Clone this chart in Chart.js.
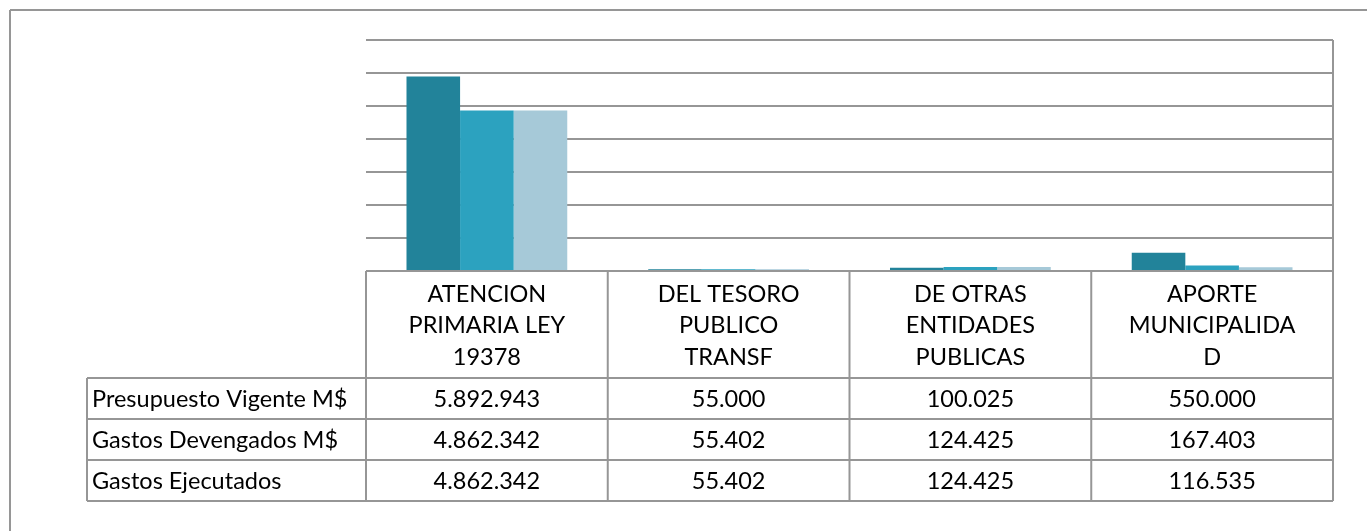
<!DOCTYPE html>
<html><head><meta charset="utf-8">
<script src="https://cdn.jsdelivr.net/npm/chart.js@4.4.1/dist/chart.umd.min.js"></script>
<style>html,body{margin:0;padding:0;background:#fff}#wrap{position:relative;width:1367px;height:531px}</style>
</head><body><div id="wrap"><canvas id="c" width="1367" height="531"></canvas></div>
<script>
const categories = [["ATENCION","PRIMARIA LEY","19378"],["DEL TESORO","PUBLICO","TRANSF"],["DE OTRAS","ENTIDADES","PUBLICAS"],["APORTE","MUNICIPALIDA","D"]];
const seriesNames = ["Presupuesto Vigente M$","Gastos Devengados M$","Gastos Ejecutados"];
const presupuestoVigente = [5892943,55000,100025,550000];
const gastosDevengados = [4862342,55402,124425,167403];
const gastosEjecutados = [4862342,55402,124425,116535];
const yMin = 0, yMax = 7000000, yStep = 1000000;

const colors = ["#22839A","#2CA2BF","#A6C9D8"];
const gridColor = "#969696";
const FONT = "23.5px Lato";

function fmt(v){ return String(v).replace(/\B(?=(\d{3})+(?!\d))/g, "."); }

const tablePlugin = {
  id: 'dataTable',
  afterDraw(chart){
    const ctx = chart.ctx, ca = chart.chartArea, xs = chart.scales.x;
    const n = categories.length;
    const w = (xs.right - xs.left) / n;
    const edges = []; for (let i=0;i<=n;i++) edges.push(xs.left + i*w);
    const labelLeft = 87;
    const headerBottom = ca.bottom + 107;
    const rowH = 41;
    const rows = [presupuestoVigente, gastosDevengados, gastosEjecutados];
    const tableBottom = headerBottom + rows.length*rowH;
    ctx.save();
    ctx.strokeStyle = gridColor; ctx.lineWidth = 2;
    ctx.beginPath();
    ctx.moveTo(10, 10); ctx.lineTo(1367, 10);
    ctx.moveTo(10, 10); ctx.lineTo(10, 531);
    ctx.moveTo(edges[n], ca.top); ctx.lineTo(edges[n], tableBottom);
    for (let i=0;i<n;i++){ ctx.moveTo(edges[i], ca.bottom); ctx.lineTo(edges[i], tableBottom); }
    ctx.moveTo(labelLeft, headerBottom); ctx.lineTo(labelLeft, tableBottom);
    ctx.moveTo(edges[0], ca.bottom); ctx.lineTo(edges[n], ca.bottom);
    for (let r=0;r<=rows.length;r++){ const y = headerBottom + r*rowH; ctx.moveTo(labelLeft, y); ctx.lineTo(edges[n], y); }
    ctx.stroke();
    ctx.fillStyle = "#000"; ctx.font = FONT; ctx.textBaseline = "middle";
    ctx.textAlign = "center";
    for (let i=0;i<n;i++){
      const cx = xs.getPixelForValue(i);
      categories[i].forEach((t,k)=> ctx.fillText(t, cx, ca.bottom + 23 + k*31.5));
      rows.forEach((arr,r)=> ctx.fillText(fmt(arr[i]), cx, headerBottom + r*rowH + rowH/2 + 1));
    }
    ctx.textAlign = "left";
    seriesNames.forEach((s,r)=> ctx.fillText(s, labelLeft + 5, headerBottom + r*rowH + rowH/2 + 1));
    ctx.restore();
  }
};

new Chart(document.getElementById('c'), {
  type: 'bar',
  data: {
    labels: categories,
    datasets: seriesNames.map((name,i)=>({
      label: name,
      data: [presupuestoVigente, gastosDevengados, gastosEjecutados][i],
      backgroundColor: colors[i],
      borderWidth: 0,
      barPercentage: 1,
      categoryPercentage: 0.665
    }))
  },
  options: {
    responsive: false,
    animation: false,
    layout: { padding: { left: 366, right: 34, top: 40, bottom: 260 } },
    plugins: { legend: { display: false }, tooltip: { enabled: false } },
    scales: {
      x: { display: false },
      y: {
        min: yMin, max: yMax,
        ticks: { display: false, stepSize: yStep },
        grid: { color: gridColor, lineWidth: 2, drawTicks: false },
        border: { display: false },
        afterFit(a){ a.width = 0; }
      }
    }
  },
  plugins: [tablePlugin]
});
</script>
</body></html>
